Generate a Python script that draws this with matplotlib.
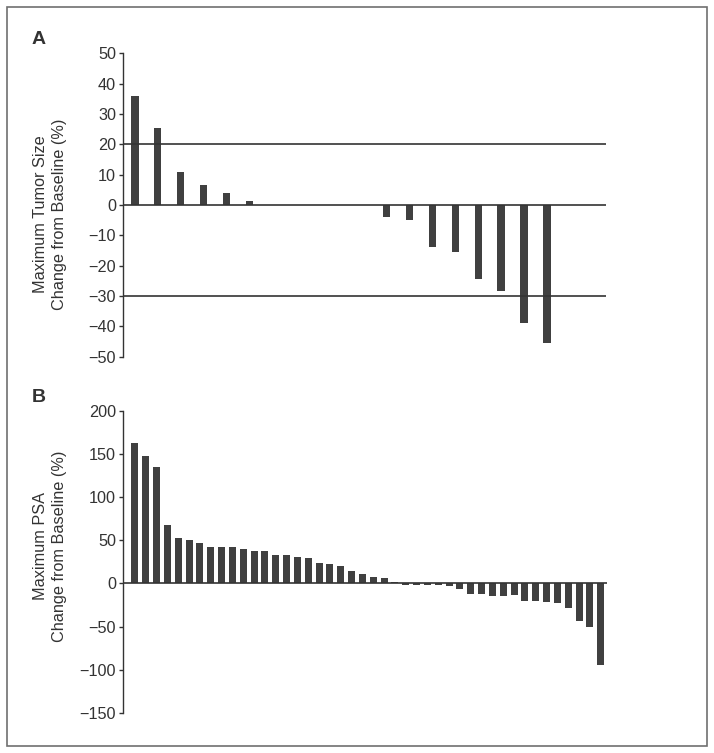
import matplotlib
matplotlib.use("Agg")
from matplotlib import pyplot as plt
from matplotlib.patches import Rectangle

plt.rcParams['font.family'] = ['Liberation Sans', 'DejaVu Sans']

# Panel A: maximum tumor size change from baseline (%), one bar per patient
tumor_change = [36, 25.5, 11, 6.7, 4, 1.3, 0, 0, 0, 0, 0,
                -3.8, -4.8, -13.7, -15.5, -24.5, -28.5, -38.8, -45.5]
tumor_refs = [20, 0, -30]
tumor_ticks = [50, 40, 30, 20, 10, 0, -10, -20, -30, -40, -50]

# Panel B: maximum PSA change from baseline (%)
psa_change = [163, 147, 135, 68, 53, 50, 47, 42, 42, 42, 40, 37, 37, 33, 33,
              31, 30, 24, 22, 20, 14, 11, 8, 6, 2, -2, -2, -2, -2, -3, -6,
              -12, -12, -14, -14, -13, -20, -20, -22, -23, -28, -43, -50, -94]
psa_ticks = [200, 150, 100, 50, 0, -50, -100, -150]

BAR = '#404040'
INK = '#333333'
FS = 11.7


def style_axis(ax, ticks):
    for side in ('top', 'right', 'bottom'):
        ax.spines[side].set_visible(False)
    ax.spines['left'].set_color(INK)
    ax.spines['left'].set_linewidth(1.0)
    ax.set_yticks(ticks)
    ax.set_ylim(min(ticks), max(ticks))
    ax.set_xticks([])
    ax.tick_params(axis='y', direction='out', length=3, width=1.0,
                   colors=INK, labelsize=FS, pad=2)


fig = plt.figure(figsize=(7.14, 7.53), dpi=100)

# panel A
ax_a = fig.add_axes([0.1723, 0.5263, 0.6764, 0.4029])
ax_a.bar(range(len(tumor_change)), tumor_change, width=0.32, color=BAR, zorder=2)
for ref in tumor_refs:
    ax_a.axhline(ref, color=INK, lw=1.2, zorder=3)
ax_a.set_xlim(-0.52, 20.58)
style_axis(ax_a, tumor_ticks)
ax_a.text(50 / 714, 1 - 214 / 753, "Maximum Tumor Size\nChange from Baseline (%)",
          transform=fig.transFigure, rotation=90, ha='center', va='center',
          multialignment='center', linespacing=1.35, fontsize=FS, color=INK)

# panel B
ax_b = fig.add_axes([0.1723, 0.0531, 0.6778, 0.4015])
ax_b.bar(range(len(psa_change)), psa_change, width=0.65, color=BAR, zorder=2)
ax_b.axhline(0, color=INK, lw=1.2, zorder=3)
ax_b.set_xlim(-1.1, 43.58)
style_axis(ax_b, psa_ticks)
ax_b.text(50 / 714, 1 - 546 / 753, "Maximum PSA\nChange from Baseline (%)",
          transform=fig.transFigure, rotation=90, ha='center', va='center',
          multialignment='center', linespacing=1.35, fontsize=FS, color=INK)

# panel letters
fig.text(32 / 714, 1 - 40 / 753, "A", fontsize=14, fontweight='bold',
         color=INK, ha='left', va='center')
fig.text(32 / 714, 1 - 397 / 753, "B", fontsize=14, fontweight='bold',
         color=INK, ha='left', va='center')

# outer frame around the whole figure
fig.patches.append(Rectangle((7 / 714, 7 / 753), 700 / 714, 739 / 753,
                             transform=fig.transFigure, fill=False,
                             edgecolor='#707070', lw=1.2))

fig.savefig("out.png", dpi=100)
